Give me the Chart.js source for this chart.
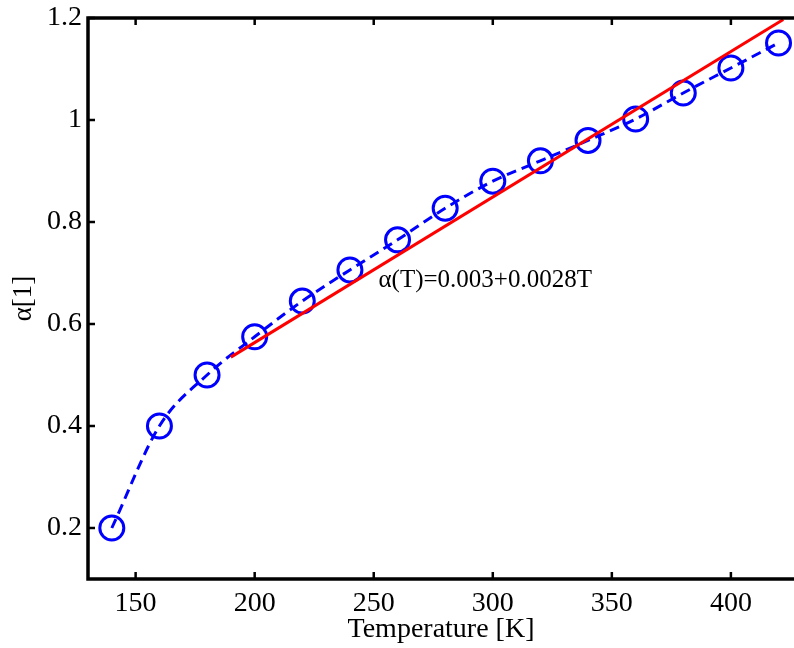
<!DOCTYPE html>
<html>
<head>
<meta charset="utf-8">
<script src="https://cdn.jsdelivr.net/npm/chart.js@4"></script>
<style>
  html, body { margin: 0; padding: 0; background: #fff; overflow: hidden; }
  #wrap { width: 794px; height: 648px; }
</style>
</head>
<body>
<div id="wrap"><canvas id="alpha-chart" width="794" height="648"></canvas></div>
<script>
// measured points (temperature in K, alpha)
const temperatures = [140, 160, 180, 200, 220, 240, 260, 280, 300, 320, 340, 360, 380, 400, 420];
const alphaValues = [0.2, 0.4, 0.5, 0.575, 0.645, 0.706, 0.765, 0.827, 0.88, 0.92, 0.96, 1.002, 1.053, 1.102, 1.151];

// linear fit, two end points
const fitTemps = [190, 422];
const fitValues = [0.535, 1.197];

const xTicks = [150, 200, 250, 300, 350, 400];
const yTicks = [0.2, 0.4, 0.6, 0.8, 1, 1.2];

const fitLabel = "\u03b1(T)=0.003+0.0028T";
const fitLabelAt = [252, 0.672];

const serif = "'Liberation Serif', 'DejaVu Serif', serif";

// MATLAB-like frame: left, bottom and top lines with inward ticks
const framePlugin = {
    id: "matlabFrame",
    afterDatasetsDraw(chart) {
        const { ctx, chartArea: a, scales } = chart;
        ctx.save();
        ctx.strokeStyle = "#000";
        ctx.lineCap = "square";
        ctx.lineWidth = 3.5;
        ctx.beginPath();
        ctx.moveTo(a.right + 4, a.top);
        ctx.lineTo(a.left, a.top);
        ctx.lineTo(a.left, a.bottom);
        ctx.lineTo(a.right + 4, a.bottom);
        ctx.stroke();

        ctx.lineWidth = 2.5;
        ctx.lineCap = "butt";
        const len = 7;
        ctx.beginPath();
        xTicks.forEach(v => {
            const px = scales.x.getPixelForValue(v);
            ctx.moveTo(px, a.bottom);
            ctx.lineTo(px, a.bottom - len);
            ctx.moveTo(px, a.top);
            ctx.lineTo(px, a.top + len);
        });
        yTicks.forEach(v => {
            const py = scales.y.getPixelForValue(v);
            ctx.moveTo(a.left, py);
            ctx.lineTo(a.left + len, py);
        });
        ctx.stroke();

        // fit equation
        ctx.fillStyle = "#000";
        ctx.font = "25px " + serif;
        ctx.textAlign = "left";
        ctx.textBaseline = "alphabetic";
        ctx.fillText(fitLabel, scales.x.getPixelForValue(fitLabelAt[0]), scales.y.getPixelForValue(fitLabelAt[1]));
        ctx.restore();
    }
};

const ctx = document.getElementById("alpha-chart");

new Chart(ctx, {
    type: "line",
    data: {
        datasets: [
            {
                label: "fit",
                data: fitTemps.map((t, i) => ({ x: t, y: fitValues[i] })),
                borderColor: "#ff0000",
                borderWidth: 3,
                pointRadius: 0,
                fill: false,
                order: 0
            },
            {
                label: "alpha",
                data: temperatures.map((t, i) => ({ x: t, y: alphaValues[i] })),
                borderColor: "#0000ff",
                borderWidth: 3,
                borderDash: [10, 6],
                cubicInterpolationMode: "monotone",
                pointStyle: "circle",
                pointRadius: 12,
                pointBorderWidth: 3,
                pointBorderColor: "#0000ff",
                pointBackgroundColor: "rgba(0,0,0,0)",
                fill: false,
                order: 1
            }
        ]
    },
    options: {
        responsive: false,
        animation: false,
        devicePixelRatio: 1,
        layout: { autoPadding: false, padding: { top: 18, right: 0, bottom: 0, left: 0 } },
        plugins: {
            legend: { display: false },
            tooltip: { enabled: false }
        },
        scales: {
            x: {
                type: "linear",
                min: 130,
                max: 426.5,
                grid: { display: false, drawTicks: false },
                border: { display: false },
                afterBuildTicks: scale => { scale.ticks = xTicks.map(v => ({ value: v })); },
                afterFit: scale => { scale.height = 69; scale.paddingLeft = 0; scale.paddingRight = 0; },
                ticks: {
                    color: "#000",
                    padding: 8,
                    maxRotation: 0,
                    font: { family: serif, size: 28 }
                },
                title: {
                    display: true,
                    text: "Temperature [K]",
                    color: "#000",
                    padding: { top: 0, bottom: 2 },
                    font: { family: serif, size: 28 }
                }
            },
            y: {
                type: "linear",
                min: 0.1,
                max: 1.2,
                grid: { display: false, drawTicks: false },
                border: { display: false },
                afterBuildTicks: scale => { scale.ticks = yTicks.map(v => ({ value: v })); },
                afterFit: scale => { scale.width = 88; scale.paddingTop = 0; scale.paddingBottom = 0; },
                ticks: {
                    color: "#000",
                    padding: 6,
                    font: { family: serif, size: 28 },
                    callback: v => String(v)
                },
                title: {
                    display: true,
                    text: "\u03b1[1]",
                    color: "#000",
                    padding: { top: 8, bottom: 0 },
                    font: { family: serif, size: 27 }
                }
            }
        }
    },
    plugins: [framePlugin]
});
</script>
</body>
</html>
